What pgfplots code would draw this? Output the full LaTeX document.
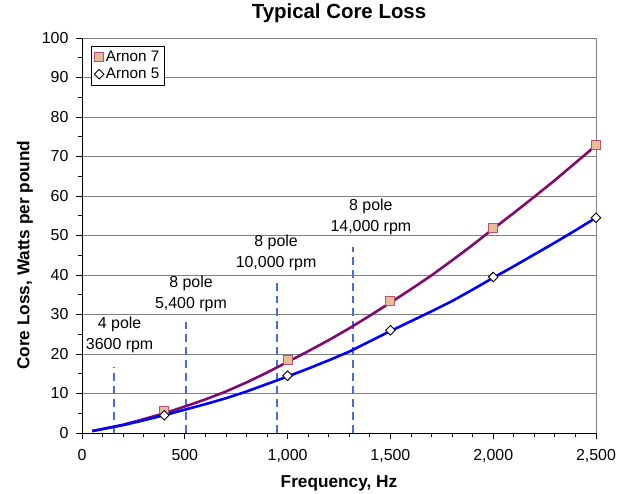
\documentclass[border=0pt]{standalone}
\usepackage{pgfplots}
\pgfplotsset{compat=1.18}
\usepackage{fontspec}
\setmainfont{Liberation Sans}
\definecolor{a7line}{RGB}{128,10,110}
\definecolor{a7fill}{RGB}{232,188,150}
\definecolor{a7edge}{RGB}{190,80,110}
\definecolor{dashc}{RGB}{70,110,220}
\begin{document}
\begin{tikzpicture}
\begin{axis}[
  name=ax,
  scale only axis,
  width=514bp, height=395bp,
  xmin=0, xmax=2500, ymin=0, ymax=100,
  xtick={0,500,...,2500}, ytick={0,10,...,100},
  minor x tick num=4, minor y tick num=1,
  tick align=outside,
  major tick length=6bp, minor tick length=4bp,
  tick style={black, line width=0.8pt},
  ymajorgrids, major grid style={gray, line width=0.8pt},
  axis x line*=bottom, axis y line*=left,
  axis line style={black, line width=0.9pt, -},
  /pgf/number format/assume math mode=true,
  /pgf/number format/1000 sep={,},
  ticklabel style={font=\fontsize{16}{18}\selectfont},
  xticklabel style={yshift=-7bp},
  yticklabel style={xshift=-4bp},
  title={\textbf{Typical Core Loss}},
  title style={font=\fontsize{20.5}{23}\selectfont, at={(axis description cs:0.5,1.048)}, anchor=center},
  xlabel={\textbf{Frequency, Hz}},
  xlabel style={font=\fontsize{17.3}{19}\selectfont, at={(axis description cs:0.5,-0.1266)}, anchor=center},
  ylabel={\textbf{Core Loss, Watts per pound}},
  ylabel style={font=\fontsize{17.3}{19}\selectfont, at={(axis description cs:-0.111,0.45)}, anchor=center},
  legend style={at={(axis description cs:0.0175,0.98)}, anchor=north west, draw=black, line width=0.8pt, font=\fontsize{15.3}{17}\selectfont, row sep=1pt, inner sep=3pt},
  legend cell align=left,
  clip=false,
]
% dashed speed markers
\addplot[dashc, line width=2pt, dash pattern=on 8pt off 5pt, forget plot] coordinates {(157,0) (157,16.7)};
\addplot[dashc, line width=2pt, dash pattern=on 8pt off 5pt, forget plot] coordinates {(506,0) (506,28)};
\addplot[dashc, line width=2pt, dash pattern=on 8pt off 5pt, forget plot] coordinates {(947,0) (947,39)};
\addplot[dashc, line width=2pt, dash pattern=on 8pt off 5pt, forget plot] coordinates {(1317,0) (1317,47)};
% curves
\addplot[a7line, line width=2.6pt, forget plot] coordinates {
(50,0.5) (100,1.0) (200,2.1) (300,3.5) (400,5.0) (500,6.7) (600,8.5) (700,10.5) (800,12.8) (900,15.3) (1000,18.0) (1100,20.7) (1200,23.5) (1300,26.5) (1400,29.7) (1500,33.0) (1600,36.4) (1700,39.9) (1800,43.7) (1900,47.6) (2000,51.7) (2100,55.7) (2200,59.8) (2300,64.0) (2400,68.4) (2500,72.8)};
\addplot[blue, line width=2.6pt, forget plot] coordinates {
(50,0.5) (100,1.0) (200,2.0) (300,3.2) (400,4.5) (500,5.9) (600,7.3) (700,8.8) (800,10.5) (900,12.4) (1000,14.3) (1100,16.3) (1200,18.4) (1300,20.6) (1400,23.2) (1500,25.8) (1600,28.3) (1700,30.8) (1800,33.4) (1900,36.3) (2000,39.3) (2100,42.2) (2200,45.2) (2300,48.2) (2400,51.3) (2500,54.5)};
% markers
\addplot[only marks, mark=square*, mark size=4.5bp, mark options={fill=a7fill, draw=a7edge, line width=1pt}] coordinates {(400,5.5) (1000,18.5) (1500,33.5) (2000,52) (2500,73)};
\addlegendentry{Arnon 7}
\addplot[only marks, mark=square*, mark size=3.4bp, mark options={rotate=45, fill=white, draw=black, line width=0.9pt}] coordinates {(400,4.5) (1000,14.5) (1500,26) (2000,39.5) (2500,54.5)};
\addlegendentry{Arnon 5}
% annotations
\node[font=\fontsize{16}{21}\selectfont, align=center] at (axis cs:183,24.8) {4 pole\\3600 rpm};
\node[font=\fontsize{16}{21}\selectfont, align=center] at (axis cs:530,35.3) {8 pole\\5,400 rpm};
\node[font=\fontsize{16}{21}\selectfont, align=center] at (axis cs:944,45.6) {8 pole\\10,000 rpm};
\node[font=\fontsize{16}{21}\selectfont, align=center] at (axis cs:1405,54.8) {8 pole\\14,000 rpm};
\draw[gray, line width=0.8pt] (rel axis cs:1,0) -- (rel axis cs:1,1);
\end{axis}
\pgfresetboundingbox
\path ([shift={(-82bp,-61bp)}]ax.south west) rectangle ([shift={(33bp,38bp)}]ax.north east);
\end{tikzpicture}
\end{document}
